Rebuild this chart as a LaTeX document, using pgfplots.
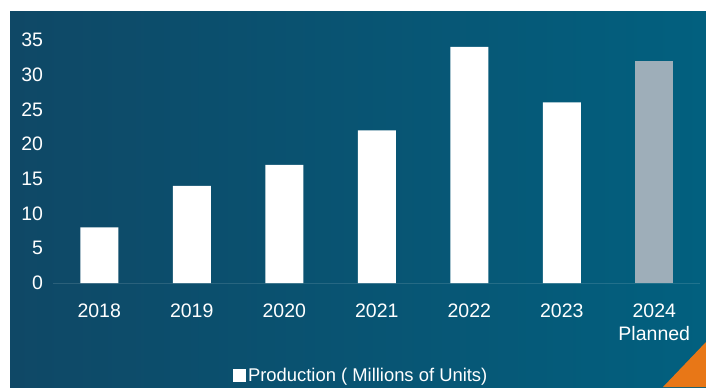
\documentclass[border=0pt]{standalone}
\usepackage{pgfplots}
\pgfplotsset{compat=1.18}
\usepackage{fontspec}
\setmainfont{Liberation Sans}
\definecolor{bgL}{HTML}{0F4866}
\definecolor{bgR}{HTML}{02607F}
\definecolor{planned}{HTML}{9EAEB9}
\definecolor{orng}{HTML}{E87717}
\begin{document}
\begin{tikzpicture}[x=1bp,y=1bp]
\fill[white] (0,0) rectangle (706,387);
\shade[left color=bgL, right color=bgR] (10,0) rectangle (706,375);
\fill[orng] (663,0) -- (706,0) -- (706,45) -- cycle;
\draw[color=white, opacity=0.12, line width=1bp] (53,104) -- (700,104);
\begin{axis}[
  at={(53bp,104bp)}, anchor=south west,
  scale only axis, width=647.5bp, height=243bp,
  xmin=-0.5, xmax=6.5, ymin=0, ymax=35,
  axis line style={draw=none}, major tick style={draw=none},
  xtick={0,...,6},
  xticklabels={2018,2019,2020,2021,2022,2023,2024\\Planned},
  ytick={0,5,...,35},
  /pgf/number format/assume math mode=true,
  ticklabel style={font=\fontsize{19.5bp}{23bp}\selectfont, text=white},
  xticklabel style={align=center, yshift=-13bp},
  yticklabel style={xshift=-6.5bp},
  ybar, bar width=38bp, bar shift=0pt,
  clip=false,
  legend style={at={(axis description cs:0.476,-0.379)}, anchor=center,
    draw=none, fill=none, text=white, font=\fontsize{18.4bp}{20bp}\selectfont,
    inner sep=0pt, nodes={inner xsep=2bp}},
  legend image code/.code={\fill[white] (0bp,-6.5bp) rectangle (13bp,6.5bp);},
]
\addplot[fill=white, draw=none] coordinates {(0,8) (1,14) (2,17) (3,22) (4,34) (5,26)};
\addlegendentry{Production ( Millions of Units)}
\addplot[fill=planned, draw=none, forget plot] coordinates {(6,32)};
\end{axis}
\end{tikzpicture}
\end{document}
